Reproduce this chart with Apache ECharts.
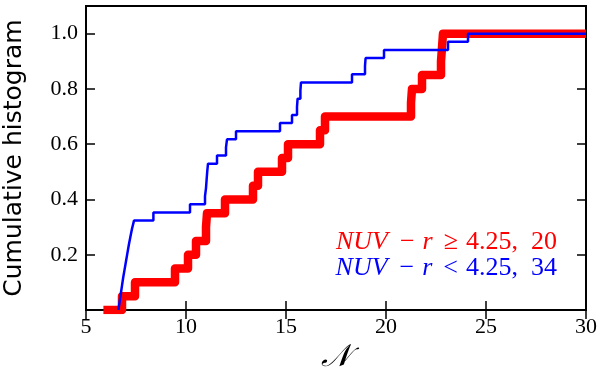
<!DOCTYPE html>
<html>
<head>
<meta charset="utf-8">
<script src="https://cdn.jsdelivr.net/npm/echarts@6/dist/echarts.min.js"></script>
<style>
    html,body{margin:0;padding:0;background:#fff;}
    #main{width:600px;height:374px;}
</style>
</head>
<body>
<div id="main"></div>
<script>
// sample values (N) where each cumulative histogram steps up
var redStart = 5.87;
var redN = [6.8, 7.45, 9.45, 10.1, 10.5, 11.0, 11.05, 11.95, 13.35, 13.6,
    14.8, 15.1, 16.7, 16.95, 21.25, 21.3, 21.8, 22.75, 22.8, 22.85];
var blueStart = 6.62;
var blueN = [6.68, 6.74, 6.8, 6.86, 6.93, 7.0, 7.07, 7.14, 7.22, 7.3, 7.4,
    8.37, 10.2, 10.95, 11.0, 11.03, 11.06, 11.1, 11.55, 12.0, 12.05, 12.5,
    14.7, 15.3, 15.55, 15.58, 15.72, 15.75, 18.3, 18.95, 18.98, 19.9, 23.1, 24.1];
var xEnd = 30;
var xTicks = [5, 10, 15, 20, 25, 30];
var yTicks = [0.2, 0.4, 0.6, 0.8, 1.0];

// cumulative fraction of the sample at each step
function cumul(start, arr){
    var out = [[start, 0]];
    for(var i=0;i<arr.length;i++){
        out.push([arr[i], (i+1)/arr.length]);
    }
    out.push([xEnd, 1]);
    return out;
}

var serif = 'Liberation Serif';
var tickStyle = {show:true, inside:true, length:9, lineStyle:{color:'#000', width:1.5}};

function legendText(col, rel, num, top){
    var f = {fontFamily:serif, fontSize:26, fill:col};
    return {
        type:'text', right:43, top:top,
        style:{
            text:'{i|NUV}{g1| }{n|\u2212}{g2| }{i|r}{g3| }{n|' + rel + '}{g4| }{n|4.25,}{g5| }{n|' + num + '}',
            fill:col,
            rich:{
                i:{fontFamily:serif, fontStyle:'italic', fontSize:26, fill:col},
                n:f,
                g1:{fontSize:26, width:12},
                g2:{fontSize:26, width:8},
                g3:{fontSize:26, width:11},
                g4:{fontSize:26, width:8},
                g5:{fontSize:26, width:13}
            }
        }
    };
}

option = {
    animation: false,
    backgroundColor: '#fff',
    grid: {left:86, right:14, top:6, bottom:64, show:true, borderColor:'#000', borderWidth:2,
        containLabel:false, outerBoundsMode:'none'},
    xAxis: [
        {
            type:'value', min:5, max:30, interval:5, position:'bottom',
            name:'\uD835\uDCA9', nameLocation:'middle', nameGap:30,
            nameTextStyle:{fontFamily:'DejaVu Serif', fontSize:31, color:'#000', fontStyle:'italic'},
            axisLine:{show:true, lineStyle:{color:'#000', width:2}},
            axisTick:tickStyle,
            axisLabel:{fontFamily:serif, fontSize:22, color:'#000', margin:6,
                formatter:function(v){ return xTicks.indexOf(v)>=0 ? String(v) : ''; }},
            splitLine:{show:false}
        },
        {
            type:'value', min:5, max:30, interval:5, position:'top',
            axisLine:{show:false}, axisTick:tickStyle, axisLabel:{show:false}, splitLine:{show:false}
        }
    ],
    yAxis: [
        {
            type:'value', min:0, max:1.1, interval:0.2, position:'left',
            name:'Cumulative histogram', nameLocation:'middle', nameGap:59,
            nameTextStyle:{fontFamily:'DejaVu Sans', fontSize:25, color:'#000'},
            axisLine:{show:true, lineStyle:{color:'#000', width:2}},
            axisTick:tickStyle,
            axisLabel:{fontFamily:serif, fontSize:22, color:'#000', margin:8,
                formatter:function(v){
                    for(var i=0;i<yTicks.length;i++){ if(Math.abs(yTicks[i]-v)<1e-6) return yTicks[i].toFixed(1); }
                    return '';
                }},
            splitLine:{show:false}
        },
        {
            type:'value', min:0, max:1.1, interval:0.2, position:'right',
            axisLine:{show:false}, axisTick:tickStyle, axisLabel:{show:false}, splitLine:{show:false}
        }
    ],
    series: [
        {
            name:'red', type:'line', step:'end', showSymbol:false, z:2,
            lineStyle:{color:'#ff0000', width:8.5, join:'round'},
            data: cumul(redStart, redN)
        },
        {
            name:'blue', type:'line', step:'end', showSymbol:false, z:3,
            lineStyle:{color:'#0000ff', width:2.5},
            data: cumul(blueStart, blueN)
        }
    ],
    graphic: [
        legendText('#ff0000', '\u2265', '20', 229),
        legendText('#0000ff', '<', '34', 255)
    ]
};

var myChart = echarts.init(document.getElementById('main'));
myChart.setOption(option);
</script>
</body>
</html>
